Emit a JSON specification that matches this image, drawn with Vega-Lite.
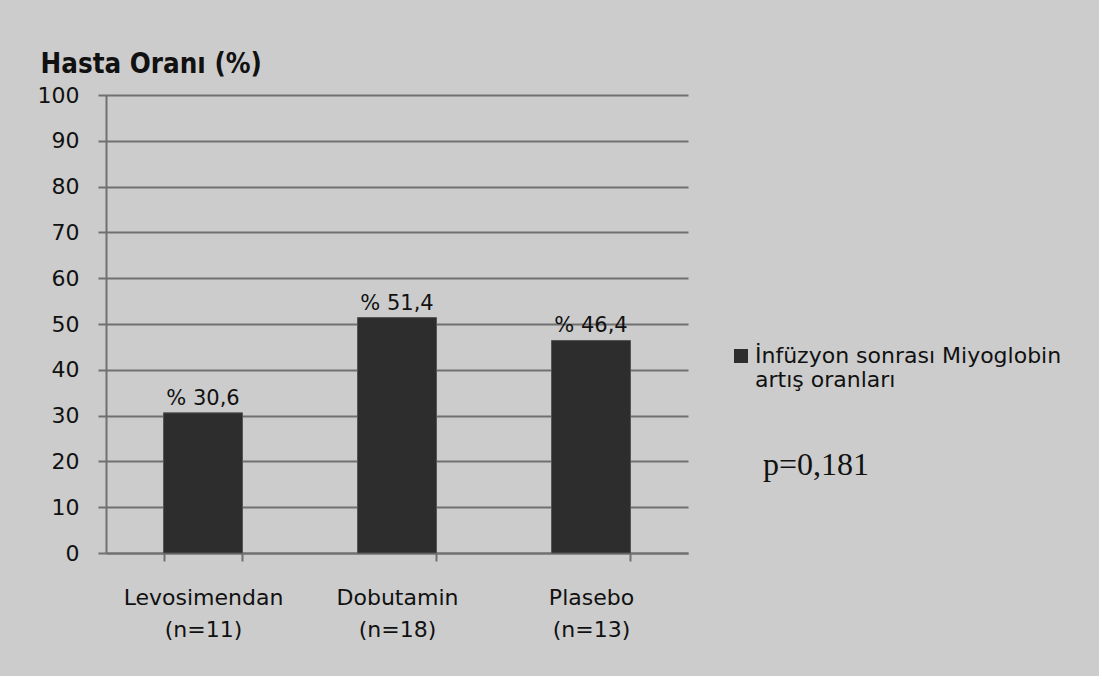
{
  "$schema": "https://vega.github.io/schema/vega-lite/v6.json",
  "width": 582,
  "height": 458,
  "autosize": "none",
  "padding": {"top": 95, "left": 106, "right": 411, "bottom": 123},
  "background": "#cccccc",
  "title": {
    "text": "p=0,181",
    "font": "Liberation Serif",
    "fontSize": 32,
    "fontWeight": "normal",
    "color": "#111111",
    "anchor": "start",
    "frame": "group",
    "orient": "top",
    "offset": 0,
    "baseline": "alphabetic",
    "dx": 657,
    "dy": 457
  },
  "data": {
    "values": [
      {"grup": "Levosimendan (n=11)", "oran": 30.6, "seri": "İnfüzyon sonrası Miyoglobin artış oranları"},
      {"grup": "Dobutamin (n=18)", "oran": 51.4, "seri": "İnfüzyon sonrası Miyoglobin artış oranları"},
      {"grup": "Plasebo (n=13)", "oran": 46.4, "seri": "İnfüzyon sonrası Miyoglobin artış oranları"}
    ]
  },
  "encoding": {
    "x": {
      "field": "grup",
      "type": "nominal",
      "sort": null,
      "scale": {"paddingInner": 0.593, "paddingOuter": 0.2965},
      "axis": {
        "title": null,
        "labelAngle": 0,
        "labelExpr": "split(datum.label, ' ')",
        "labelFontSize": 22,
        "labelLineHeight": 32,
        "labelPadding": 26,
        "labelColor": "#111111",
        "tickBand": "extent",
        "tickSize": 8,
        "tickColor": "#707070",
        "tickWidth": 2,
        "domainColor": "#707070",
        "domainWidth": 2,
        "grid": false
      }
    },
    "y": {
      "field": "oran",
      "type": "quantitative",
      "scale": {"domain": [0, 100], "nice": false},
      "axis": {
        "values": [0, 10, 20, 30, 40, 50, 60, 70, 80, 90, 100],
        "title": "Hasta Oranı (%)",
        "titleFont": "DejaVu Sans Condensed, DejaVu Sans",
        "titleAngle": 0,
        "titleAlign": "left",
        "titleBaseline": "alphabetic",
        "titleX": -66,
        "titleY": -23,
        "titleFontSize": 27.5,
        "titleFontWeight": "bold",
        "titleColor": "#111111",
        "labelFontSize": 22,
        "labelPadding": 19,
        "labelColor": "#111111",
        "tickSize": 8,
        "tickColor": "#707070",
        "tickWidth": 2,
        "domainColor": "#707070",
        "domainWidth": 2,
        "grid": true,
        "gridColor": "#707070",
        "gridWidth": 2
      }
    }
  },
  "layer": [
    {
      "mark": {"type": "bar", "stroke": "#555555", "strokeWidth": 1},
      "encoding": {
        "color": {
          "field": "seri",
          "type": "nominal",
          "scale": {"range": ["#2d2d2d"]},
          "legend": {
            "title": null,
            "orient": "none",
            "legendX": 624,
            "legendY": 250,
            "symbolType": "square",
            "symbolSize": 196,
            "symbolStrokeWidth": 0,
            "labelFontSize": 22,
            "labelColor": "#111111",
            "labelOffset": 3,
            "labelLimit": 400,
            "labelExpr": "[slice(datum.label, 0, 27), slice(datum.label, 28)]"
          }
        }
      }
    },
    {
      "mark": {"type": "text", "baseline": "alphabetic", "dy": -8, "fontSize": 21, "color": "#111111"},
      "encoding": {
        "text": {"field": "oran", "type": "quantitative", "format": "$.1f"}
      }
    }
  ],
  "config": {
    "font": "DejaVu Sans",
    "view": {"stroke": null},
    "locale": {
      "number": {"decimal": ",", "thousands": ".", "grouping": [3], "currency": ["% ", ""]}
    }
  }
}
